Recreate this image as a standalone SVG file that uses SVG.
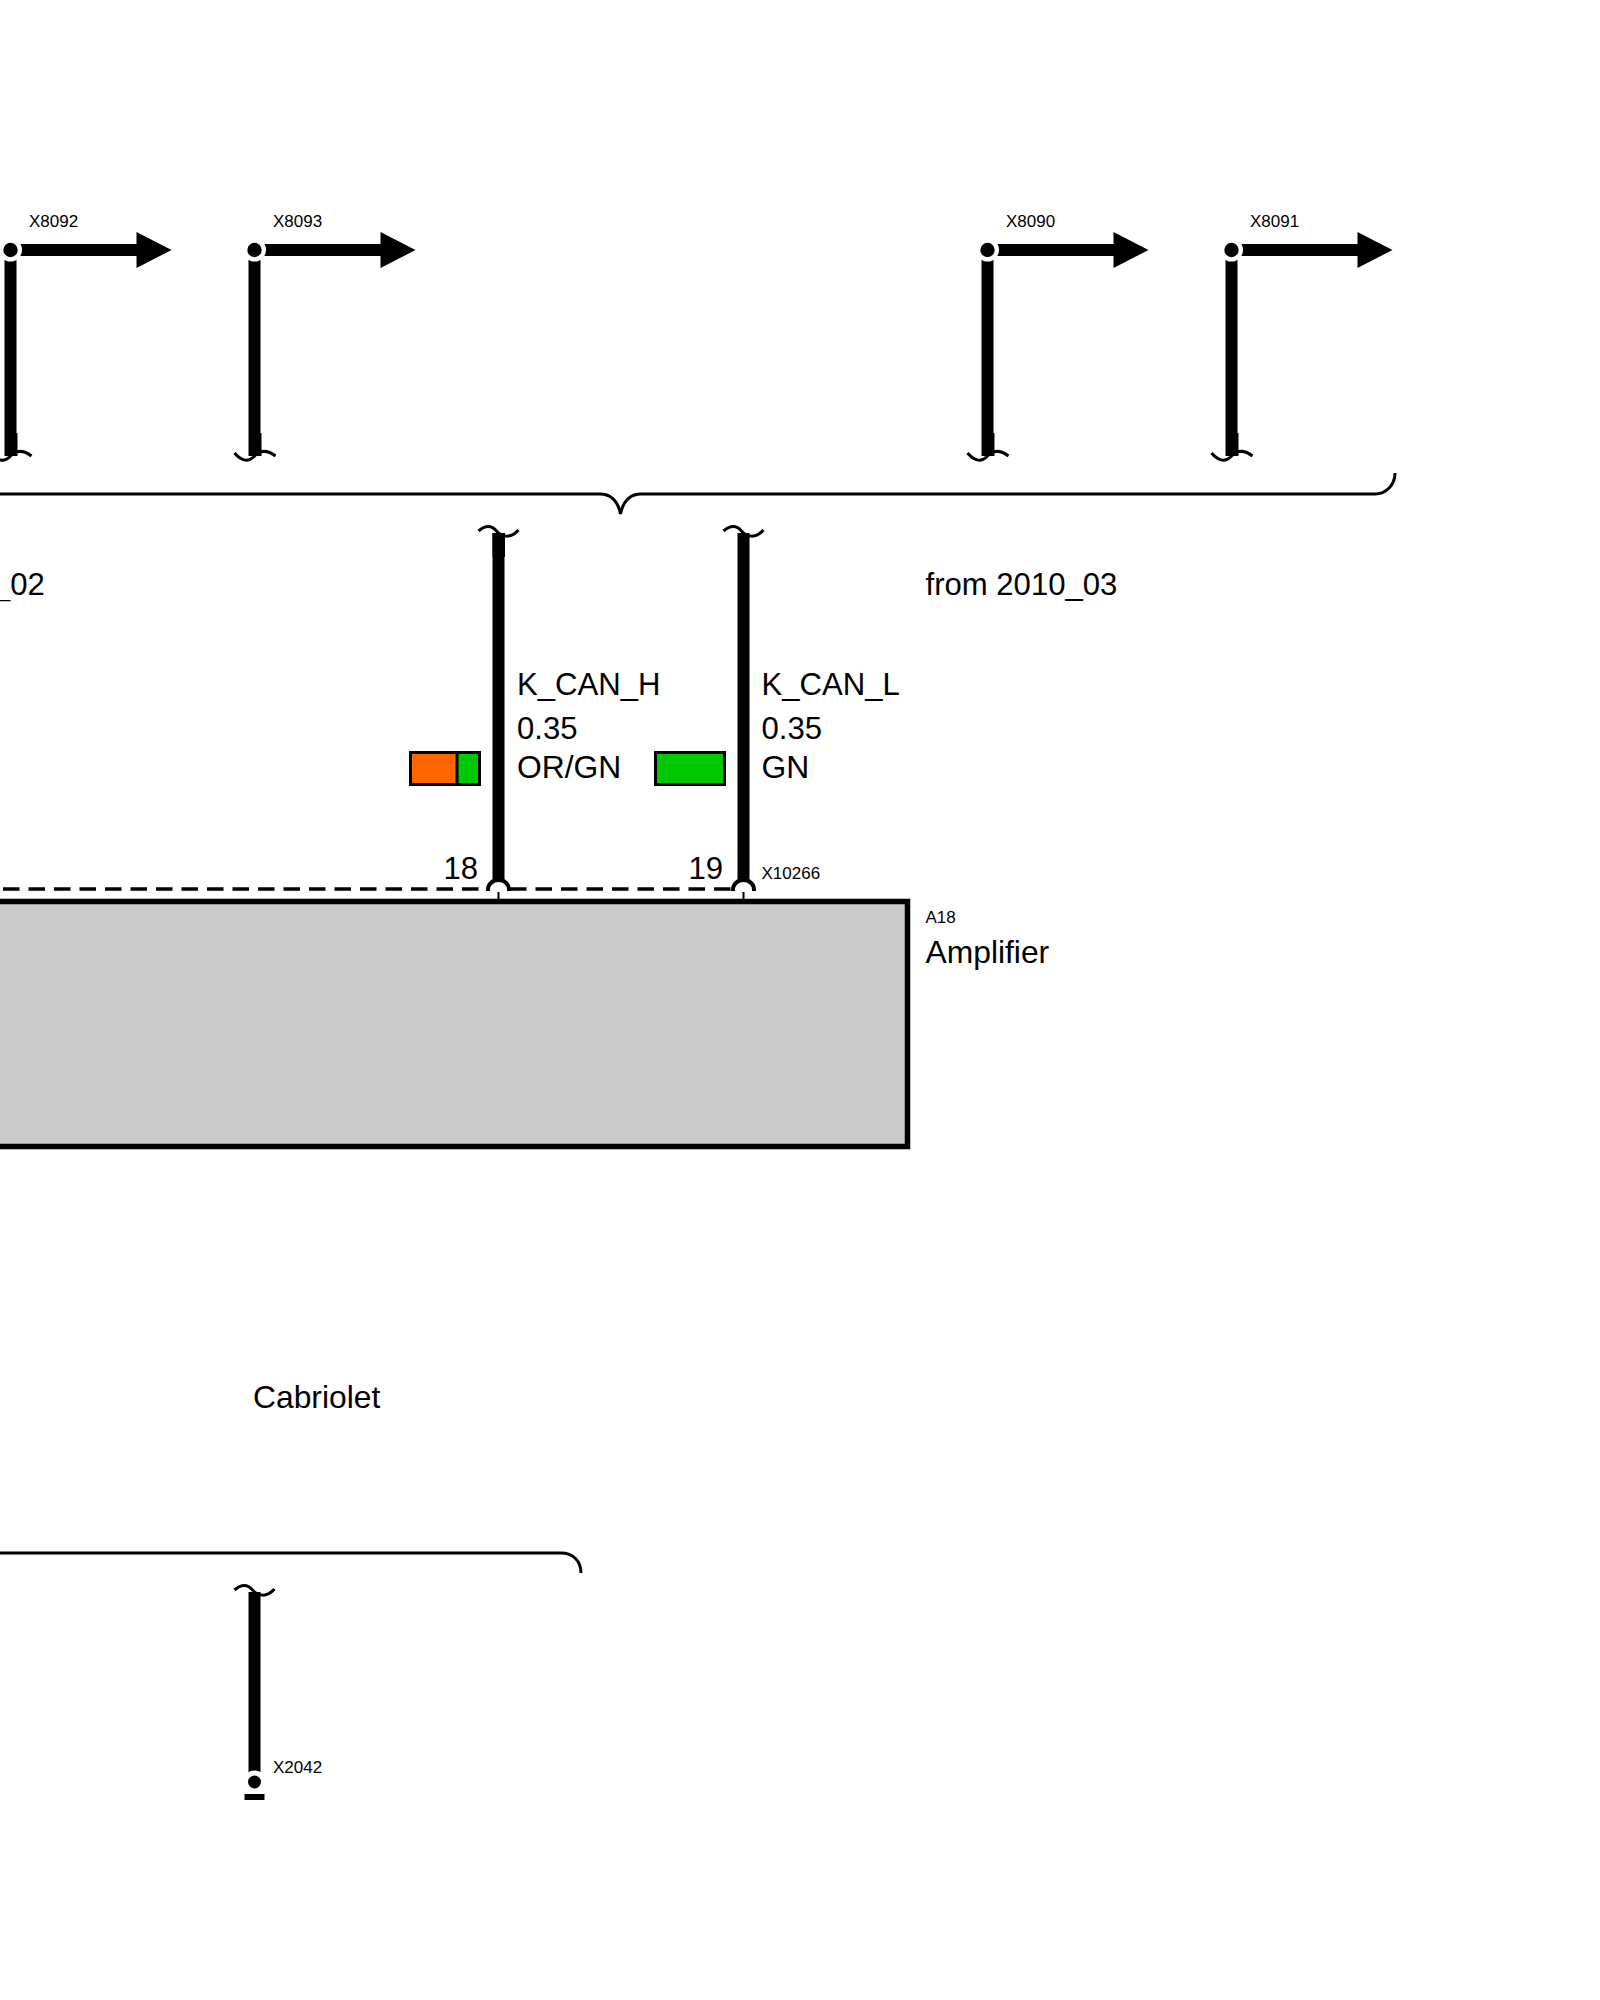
<svg xmlns="http://www.w3.org/2000/svg" width="1600" height="2000" viewBox="0 0 1600 2000">
<style>
text{font-family:"Liberation Sans",Arial,sans-serif;fill:#000}
.s{font-size:17px}.m{font-size:31.100px}.l{font-size:31.800px}
.w{stroke:#000;stroke-width:12;fill:none}
.t{stroke:#000;stroke-width:3;fill:none}
.d{stroke:#000;stroke-width:3.500;fill:none;stroke-dasharray:16.500 9}
.a{stroke:#000;stroke-width:4;fill:#fff}
.sw{stroke:#000;stroke-width:3}
</style>
<defs>
<path id="tb" class="t" d="M-20 -3 C-14 4 -7 7 -1 1 C5 -6 12 -7 21 0"/>
<path id="tt" class="t" d="M-20 -2 C-13 -8 -7 -8 -2 -2 C3 4 12 6 20 -3"/>
<g id="flag">
<path class="w" d="M0 0V206"/>
<path d="M0 -6H126V-18L161 0L126 18V6H0Z" fill="#000"/>
<circle r="11.500" fill="#fff"/>
<circle r="7.200"/>
<path d="M-5.500 183H7V206H-5.500Z"/>
<use href="#tb" y="206"/>
</g>
</defs>
<g id="connectors">
<path class="t" d="M-5 494H600C612 494 618 502 620.500 514C623 502 629 494 641 494H1375C1386 494 1395 485 1395 473"/>
<path class="t" d="M-5 1553H561C573 1553 581 1561 581 1573"/>
<path class="d" d="M478.500 889H-6"/>
<path class="d" d="M510 889H733"/>
<path class="w" d="M498.500 533V884"/>
<path class="w" d="M743.500 533V884"/>
<path d="M492.500 533H505V557H492.500Z"/>
<path stroke="#000" stroke-width="2" d="M498.500 892V900M743.500 892V900"/>
<path class="w" d="M254.500 1592V1780"/>
</g>
<g id="brace-labels">
<text class="m" x="0" y="594.500"><tspan font-size="18.500" dy="2">_</tspan><tspan dy="-2">02</tspan></text>
<text class="m" x="925.500" y="594.500">from 2010_03</text>
<text class="l" x="253" y="1408">Cabriolet</text>
</g>
<g id="X8092"><use href="#flag" x="10.500" y="250"/><text class="s" x="29" y="227">X8092</text></g>
<g id="X8093"><use href="#flag" x="254.500" y="250"/><text class="s" x="273" y="227">X8093</text></g>
<g id="X8090"><use href="#flag" x="987.500" y="250"/><text class="s" x="1006" y="227">X8090</text></g>
<g id="X8091"><use href="#flag" x="1231.500" y="250"/><text class="s" x="1250" y="227">X8091</text></g>
<g id="K_CAN_H">
<use href="#tt" x="498.500" y="533"/>
<path class="a" d="M488 891V889.500A10.500 9.500 0 0 1 509 889.500V891"/>
<rect class="sw" x="410.500" y="752.500" width="69" height="32" fill="#ff6600"/>
<rect class="sw" x="457" y="752.500" width="22.500" height="32" fill="#00c800"/>
<text class="m" x="517" y="695">K_CAN_H</text>
<text class="m" x="517" y="739">0.35</text>
<text class="l" x="517" y="778">OR/GN</text>
<text class="m" x="478" y="878.500" text-anchor="end">18</text>
</g>
<g id="K_CAN_L">
<use href="#tt" x="743.500" y="533"/>
<path class="a" d="M733 891V889.500A10.500 9.500 0 0 1 754 889.500V891"/>
<rect class="sw" x="655.500" y="752.500" width="69" height="32" fill="#00c800"/>
<text class="m" x="761.500" y="695">K_CAN_L</text>
<text class="m" x="761.500" y="739">0.35</text>
<text class="l" x="761.500" y="778">GN</text>
<text class="m" x="723" y="878.500" text-anchor="end">19</text>
<text class="s" x="761.500" y="879">X10266</text>
</g>
<g id="A18">
<rect x="-10" y="901.500" width="917.500" height="245" fill="#cbcbcb" stroke="#000" stroke-width="5.500"/>
<text class="s" x="925.500" y="923">A18</text>
<text class="l" x="925.500" y="963">Amplifier</text>
</g>
<g id="X2042">
<use href="#tt" x="254.500" y="1592"/>
<circle cx="254.500" cy="1782" r="11.500" fill="#fff"/>
<circle cx="254.500" cy="1782" r="6.500"/>
<rect x="244.500" y="1794" width="20" height="6"/>
<text class="s" x="273" y="1773">X2042</text>
</g>
</svg>
